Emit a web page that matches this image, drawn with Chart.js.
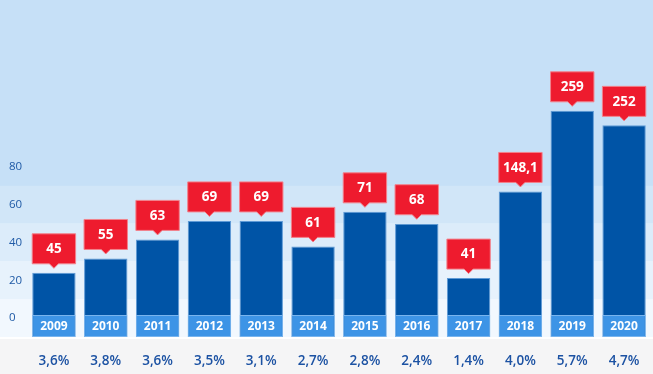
<!DOCTYPE html>
<html><head><meta charset="utf-8">
<script src="https://cdn.jsdelivr.net/npm/chart.js@4/dist/chart.umd.min.js"></script>
<style>html,body{margin:0;padding:0;background:#fff;}canvas{display:block;}</style>
</head><body>
<canvas id="c" width="653" height="374"></canvas>
<script>
const years = ['2009','2010','2011','2012','2013','2014','2015','2016','2017','2018','2019','2020'];
const barValues = [24.0, 31.6, 41.7, 51.5, 51.5, 38.0, 56.3, 50.0, 21.2, 67.1, 109.8, 102.1];
const calloutLabels = ['45','55','63','69','69','61','71','68','41','148,1','259','252'];
const shareLabels = ['3,6%','3,8%','3,6%','3,5%','3,1%','2,7%','2,8%','2,4%','1,4%','4,0%','5,7%','4,7%'];
const yTickValues = [0, 20, 40, 60, 80];
const bandEdges = [-10, 10, 30, 50, 70];
const axisMin = -10;
const axisMax = 168.5;
const yearBoxTop = 1.6;

const FONT = '"Open Sans", "DejaVu Sans", sans-serif';

const bgPlugin = {
  id: 'bg',
  beforeDraw(chart) {
    const {ctx, width, height, chartArea} = chart;
    const y = chart.scales.y;
    ctx.save();
    ctx.fillStyle = '#ffffff';
    ctx.fillRect(0, 0, width, height);
    const bandColors = ['#f2f8fe', '#e7f2fc', '#dcecfa', '#d1e6f8'];
    const topEdge = y.getPixelForValue(bandEdges[bandEdges.length - 1]);
    ctx.fillStyle = '#c6e0f7';
    ctx.fillRect(0, 0, width, topEdge);
    for (let i = 0; i < bandEdges.length - 1; i++) {
      const yb = i === 0 ? chartArea.bottom : y.getPixelForValue(bandEdges[i]);
      const yt = y.getPixelForValue(bandEdges[i + 1]);
      ctx.fillStyle = bandColors[i];
      ctx.fillRect(0, yt, width, yb - yt);
    }
    ctx.fillStyle = '#f5f5f6';
    ctx.fillRect(0, chartArea.bottom + 2, width, height - chartArea.bottom - 2);
    ctx.restore();
  }
};

const labelPlugin = {
  id: 'labels',
  afterDatasetsDraw(chart) {
    const ctx = chart.ctx;
    ctx.save();
    const yearMeta = chart.getDatasetMeta(0);
    ctx.fillStyle = '#ffffff';
    ctx.font = 'bold 12px ' + FONT;
    ctx.textAlign = 'center';
    ctx.textBaseline = 'middle';
    yearMeta.data.forEach((el, i) => {
      const p = el.getProps(['x', 'y', 'base'], true);
      ctx.fillText(years[i], p.x, (p.y + p.base) / 2 + 0.5);
    });
    const barMeta = chart.getDatasetMeta(1);
    barMeta.data.forEach((el, i) => {
      const p = el.getProps(['x', 'y', 'width'], true);
      const w = p.width;
      const left = p.x - w / 2;
      const bottom = p.y - 9;
      const h = 30;
      const top = bottom - h;
      ctx.beginPath();
      ctx.moveTo(left, top);
      ctx.lineTo(left + w, top);
      ctx.lineTo(left + w, bottom);
      ctx.lineTo(p.x + 4.5, bottom);
      ctx.lineTo(p.x, bottom + 4.5);
      ctx.lineTo(p.x - 4.5, bottom);
      ctx.lineTo(left, bottom);
      ctx.closePath();
      ctx.fillStyle = '#ee1b2e';
      ctx.fill();
      ctx.lineWidth = 1;
      ctx.strokeStyle = '#f2828c';
      ctx.stroke();
      ctx.fillStyle = '#ffffff';
      ctx.font = 'bold 13.5px ' + FONT;
      ctx.fillText(calloutLabels[i], p.x, top + h / 2 + 0.5);
    });
    ctx.restore();
  }
};

new Chart(document.getElementById('c'), {
  type: 'bar',
  data: {
    labels: years,
    datasets: [
      {
        label: 'year',
        data: years.map(() => [axisMin, yearBoxTop]),
        backgroundColor: '#3d94e6',
        borderColor: '#78b4ee',
        borderWidth: 1,
        borderSkipped: false,
        grouped: false,
        barPercentage: 0.837,
        categoryPercentage: 1
      },
      {
        label: 'value',
        data: barValues,
        base: axisMin,
        backgroundColor: '#0054a6',
        borderColor: '#5e9ad6',
        borderWidth: 1,
        grouped: false,
        barPercentage: 0.837,
        categoryPercentage: 1
      }
    ]
  },
  options: {
    responsive: false,
    animation: false,
    devicePixelRatio: 1,
    layout: {padding: {left: 9, right: 3, top: 0, bottom: 0}},
    plugins: {legend: {display: false}, tooltip: {enabled: false}},
    scales: {
      x: {
        grid: {display: false, drawTicks: false},
        border: {display: false},
        afterFit(scale) { scale.height = 37; scale.paddingLeft = 0; scale.paddingRight = 0; },
        ticks: {
          padding: 16,
          color: '#1c52a3',
          font: {family: FONT, size: 13.5, weight: '600'},
          callback: (v, i) => shareLabels[i]
        }
      },
      y: {
        min: axisMin,
        max: axisMax,
        grid: {display: false, drawTicks: false},
        border: {display: false},
        afterFit(scale) { scale.width = 19; scale.paddingTop = 0; scale.paddingBottom = 0; },
        afterBuildTicks(scale) { scale.ticks = yTickValues.map(v => ({value: v})); },
        ticks: {
          crossAlign: 'far',
          padding: 0,
          color: '#1f5aa6',
          font: {family: FONT, size: 11.5},
          callback: (v) => String(v)
        }
      }
    }
  },
  plugins: [bgPlugin, labelPlugin]
});
</script>
</body></html>
